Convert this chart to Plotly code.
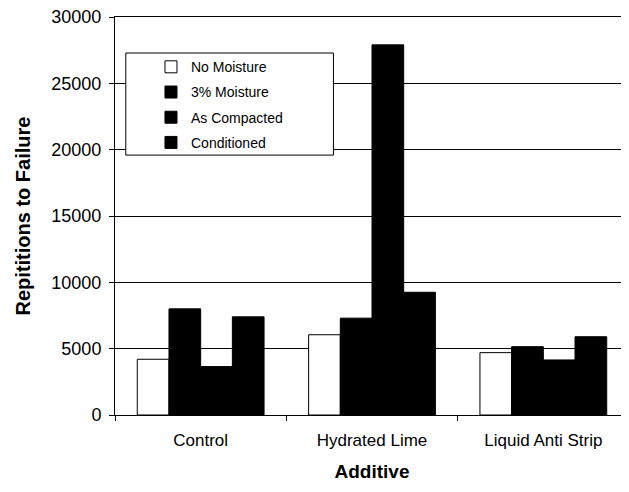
import plotly.graph_objects as go

categories = ["Control", "Hydrated Lime", "Liquid Anti Strip"]
series_names = ["No Moisture", "3% Moisture", "As Compacted", "Conditioned"]
no_moisture = [4200, 6050, 4700]
moisture_3 = [8000, 7300, 5150]
as_compacted = [3650, 27900, 4150]
conditioned = [7400, 9250, 5900]
series_values = [no_moisture, moisture_3, as_compacted, conditioned]
fills = ["white", "black", "black", "black"]
y_ticks = [0, 5000, 10000, 15000, 20000, 25000, 30000]
y_tick_labels = ["0", "5000", "10000", "15000", "20000", "25000", "30000"]

fig = go.Figure()
for name, vals, fc in zip(series_names, series_values, fills):
    fig.add_trace(go.Bar(
        x=categories, y=vals, name=name, legendgroup=name,
        marker=dict(color=fc, line=dict(color="black", width=1)),
    ))

font_family = "Arial, Liberation Sans, sans-serif"

# legend frame (white box covering gridlines)
fig.add_shape(type="rect", xref="paper", yref="paper",
              x0=0.021, x1=0.425, y0=0.653, y1=0.9095,
              fillcolor="white", line=dict(color="black", width=1), layer="above")

# page body has an 8px margin, so the figure is 8px smaller than the window
fig.update_layout(
    width=621, height=484,
    margin=dict(l=107, r=0, t=9, b=77),
    paper_bgcolor="white", plot_bgcolor="white",
    barmode="group", bargap=0.26, bargroupgap=0,
    font=dict(family=font_family, color="black"),
    showlegend=True,
    legend=dict(
        x=0.07, y=0.914, xanchor="left", yanchor="top",
        bgcolor="rgba(0,0,0,0)", borderwidth=0,
        font=dict(size=14, family=font_family, color="black"),
        tracegroupgap=4, traceorder="grouped",
    ),
    xaxis=dict(
        automargin=False,
        showline=True, linecolor="black", linewidth=1, mirror=True,
        ticks="outside", tickson="boundaries", ticklen=5, tickcolor="black",
        ticklabelstandoff=10,
        tickfont=dict(size=17, family=font_family),
        title=dict(text="<b>Additive</b>", font=dict(size=19, family=font_family)),
        showgrid=False,
    ),
    yaxis=dict(
        automargin=False,
        range=[0, 30000], tickvals=y_ticks, ticktext=y_tick_labels,
        showline=True, linecolor="black", linewidth=1,
        ticks="outside", ticklen=5, tickcolor="black",
        ticklabelstandoff=4, ticklabeloverflow="allow",
        showgrid=True, gridcolor="black", gridwidth=1,
        tickfont=dict(size=18, family=font_family),
        title=dict(text="<b>Repititions to Failure</b>", font=dict(size=20, family=font_family)),
        zeroline=False,
    ),
)

fig.write_html("out.html")
